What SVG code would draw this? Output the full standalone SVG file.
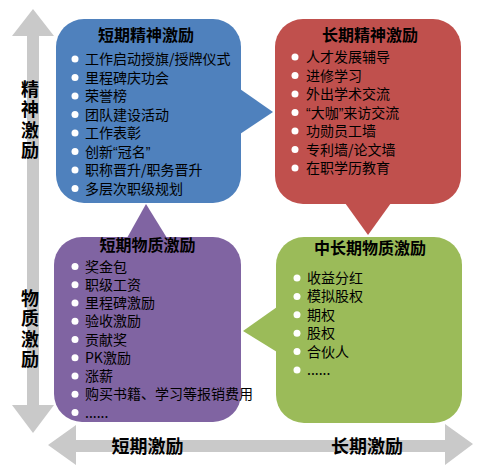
<svg xmlns="http://www.w3.org/2000/svg" width="501" height="467" viewBox="0 0 501 467">
<style>
text{font-family:"Noto Sans CJK SC","Noto Sans",sans-serif;fill:#000}
.t{font-size:16px;font-weight:bold;text-anchor:middle}
.i{font-size:14px}
.q{font-family:"Liberation Sans",sans-serif}
.ax{font-size:18px;font-weight:bold;text-anchor:middle}
.v{font-size:18px;font-weight:bold;writing-mode:vertical-rl;text-orientation:upright;letter-spacing:2.5px}
.b{fill:#fff}
.axis{fill:#C9C9C9}
</style>
<rect width="501" height="467" fill="#fff"/>
<g id="axes">
<polygon class="axis" points="33,9 54,36 39,36 39,405 54,405 33,433 12,405 27,405 27,36 12,36"/>
<polygon class="axis" points="48,445 76,425 76,440 445,440 445,424 473,444 445,465 445,452 76,452 76,465"/>
<text class="v" x="30" y="80">精神激励</text>
<text class="v" x="30" y="289">物质激励</text>
<text class="ax" x="147.5" y="452.5">短期激励</text>
<text class="ax" x="367" y="452.5">长期激励</text>
</g>
<g id="connectors">
<polygon points="240,89 273,112 240,134" fill="#4F81BD"/>
<polygon points="345,203 368,235 391,203" fill="#C0504D"/>
<polygon points="127,238 146,204 167,238" fill="#8064A2"/>
<polygon points="277,307 243,331 277,352" fill="#9BBB59"/>
</g>
<g id="short-spiritual">
<rect x="56" y="19" width="185" height="184" rx="28" fill="#4F81BD"/>
<text class="t" x="146" y="41">短期精神激励</text>
<g class="b"><circle cx="75" cy="59" r="3.5"/><circle cx="75" cy="77.5" r="3.5"/><circle cx="75" cy="96" r="3.5"/><circle cx="75" cy="114.5" r="3.5"/><circle cx="75" cy="133" r="3.5"/><circle cx="75" cy="151.5" r="3.5"/><circle cx="75" cy="170" r="3.5"/><circle cx="75" cy="188.5" r="3.5"/></g>
<text class="i" x="85" y="64">工作启动授旗/授牌仪式</text>
<text class="i" x="85" y="82.5">里程碑庆功会</text>
<text class="i" x="85" y="101">荣誉榜</text>
<text class="i" x="85" y="119.5">团队建设活动</text>
<text class="i" x="85" y="138">工作表彰</text>
<text class="i" x="85" y="156.5">创新<tspan class="q">“</tspan>冠名<tspan class="q">”</tspan></text>
<text class="i" x="85" y="175">职称晋升/职务晋升</text>
<text class="i" x="85" y="193.5">多层次职级规划</text>
</g>
<g id="long-spiritual">
<rect x="275" y="19" width="186" height="185" rx="28" fill="#C0504D"/>
<text class="t" x="370" y="41">长期精神激励</text>
<g class="b"><circle cx="295" cy="57" r="3.5"/><circle cx="295" cy="75.5" r="3.5"/><circle cx="295" cy="94" r="3.5"/><circle cx="295" cy="112.5" r="3.5"/><circle cx="295" cy="131" r="3.5"/><circle cx="295" cy="149.5" r="3.5"/><circle cx="295" cy="168" r="3.5"/></g>
<text class="i" x="306" y="62">人才发展辅导</text>
<text class="i" x="306" y="80.5">进修学习</text>
<text class="i" x="306" y="99">外出学术交流</text>
<text class="i" x="306" y="117.5"><tspan class="q">“</tspan>大咖<tspan class="q">”</tspan>来访交流</text>
<text class="i" x="306" y="136">功勋员工墙</text>
<text class="i" x="306" y="154.5">专利墙/论文墙</text>
<text class="i" x="306" y="173">在职学历教育</text>
</g>
<g id="short-material">
<rect x="54" y="237" width="187" height="185" rx="28" fill="#8064A2"/>
<text class="t" x="147.5" y="251">短期物质激励</text>
<g class="b"><circle cx="75" cy="266.5" r="3.5"/><circle cx="75" cy="284.75" r="3.5"/><circle cx="75" cy="303" r="3.5"/><circle cx="75" cy="321.25" r="3.5"/><circle cx="75" cy="339.5" r="3.5"/><circle cx="75" cy="357.75" r="3.5"/><circle cx="75" cy="376" r="3.5"/><circle cx="75" cy="394.25" r="3.5"/><circle cx="75" cy="412.5" r="3.5"/></g>
<text class="i" x="85" y="271.5">奖金包</text>
<text class="i" x="85" y="289.75">职级工资</text>
<text class="i" x="85" y="308">里程碑激励</text>
<text class="i" x="85" y="326.25">验收激励</text>
<text class="i" x="85" y="344.5">贡献奖</text>
<text class="i" x="85" y="362.75">PK激励</text>
<text class="i" x="85" y="381">涨薪</text>
<text class="i" x="85" y="399.25">购买书籍、学习等报销费用</text>
<text class="i" x="85" y="417.5">......</text>
</g>
<g id="mid-long-material">
<rect x="276" y="237" width="186" height="186" rx="28" fill="#9BBB59"/>
<text class="t" x="370" y="254">中长期物质激励</text>
<g class="b"><circle cx="297" cy="278" r="3.5"/><circle cx="297" cy="296.4" r="3.5"/><circle cx="297" cy="314.8" r="3.5"/><circle cx="297" cy="333.2" r="3.5"/><circle cx="297" cy="351.6" r="3.5"/><circle cx="297" cy="370" r="3.5"/></g>
<text class="i" x="307" y="283">收益分红</text>
<text class="i" x="307" y="301.4">模拟股权</text>
<text class="i" x="307" y="319.8">期权</text>
<text class="i" x="307" y="338.2">股权</text>
<text class="i" x="307" y="356.6">合伙人</text>
<text class="i" x="307" y="375">......</text>
</g>
</svg>
